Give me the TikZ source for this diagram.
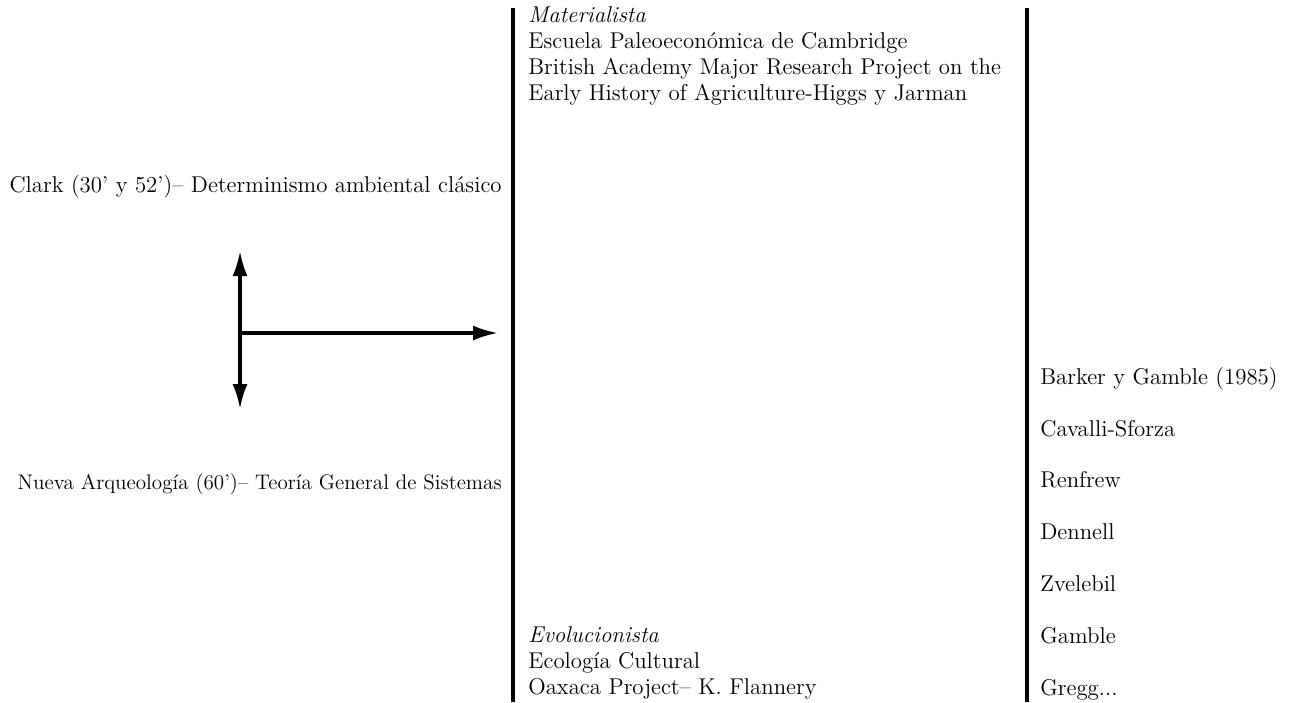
\documentclass[tikz,border=0pt]{standalone}
\usetikzlibrary{positioning, arrows.meta}
\tikzset{
  txt/.style={inner sep=0pt, font=\fontsize{13}{14.8}\selectfont, align=left},
  entry/.style={txt, text height=9pt, text depth=3pt},
  rule/.style={line width=1.8pt},
  arr/.style={-{Latex[length=5mm, width=3mm]}, line width=1.8pt}
}
\begin{document}
\begin{tikzpicture}[x=0.2mm, y=-0.2mm, node distance=6mm]
\useasboundingbox (0,0) rectangle (1293,702);
% vertical rules
\draw[rule] (513,8) -- (513,702);
\draw[rule] (1027,8) -- (1027,702);
% left side
\node[txt, anchor=east] (clark) at (502,187) {Clark (30' y 52')-- Determinismo ambiental clásico};
\node[txt, anchor=east, font=\fontsize{12}{14.8}\selectfont] (nueva) at (502,484) {Nueva Arqueología (60')-- Teoría General de Sistemas};
\coordinate (hub) at (240,333);
\coordinate (up) at (240,251);
\coordinate (down) at (240,409);
\coordinate (tip) at (498,333);
\draw[arr] (hub) -- (up);
\draw[arr] (hub) -- (down);
\draw[arr] (hub) -- (tip);
% middle column
\node[txt, anchor=north west] (mat) at (528,6) {\textit{Materialista}\\Escuela Paleoeconómica de Cambridge\\British Academy Major Research Project on the\\Early History of Agriculture-Higgs y Jarman};
\node[txt, anchor=north west] (evol) at (528,626) {\textit{Evolucionista}\\Ecología Cultural\\Oaxaca Project-- K. Flannery};
% right column
\node[entry, anchor=west] (barker) at (1040,379) {Barker y Gamble (1985)};
\node[entry, below=of barker.south west, anchor=north west] (cavalli) {Cavalli-Sforza};
\node[entry, below=of cavalli.south west, anchor=north west] (renfrew) {Renfrew};
\node[entry, below=of renfrew.south west, anchor=north west] (dennell) {Dennell};
\node[entry, below=of dennell.south west, anchor=north west] (zvelebil) {Zvelebil};
\node[entry, below=of zvelebil.south west, anchor=north west] (gamble) {Gamble};
\node[entry, below=of gamble.south west, anchor=north west] (gregg) {Gregg...};
\end{tikzpicture}
\end{document}
